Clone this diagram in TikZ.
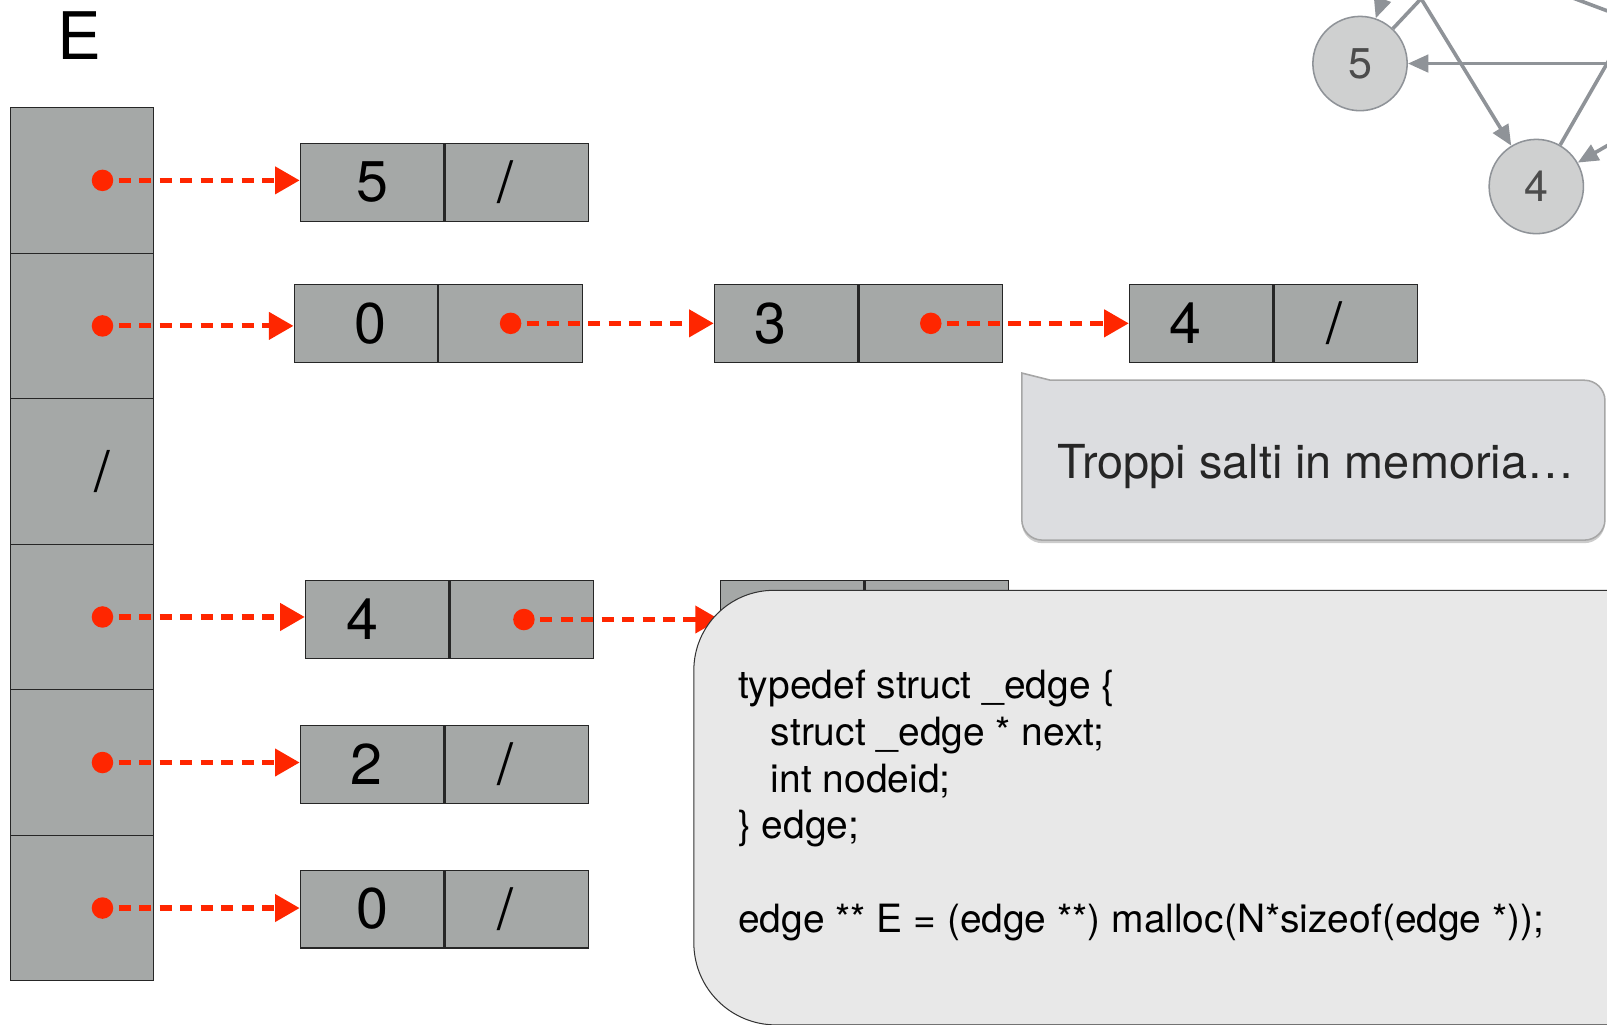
\documentclass[tikz,border=0pt]{standalone}
\usepackage{fontspec}
\setmainfont{TeX Gyre Heros}
\usepackage{tikz}
\usetikzlibrary{positioning}
\usetikzlibrary{arrows.meta}
\usetikzlibrary{shadows}

\definecolor{cellgray}{RGB}{165,168,167}
\definecolor{ptrred}{RGB}{255,38,0}
\definecolor{graphgray}{RGB}{143,147,152}
\definecolor{vertexfill}{RGB}{207,208,208}
\definecolor{notefill}{RGB}{220,221,224}
\definecolor{codefill}{RGB}{232,232,232}

\tikzset{
  ecell/.style={draw=black!85, fill=cellgray, line width=1pt, minimum width=140pt, minimum height=142pt, inner sep=0pt, font=\fontsize{55}{60}\selectfont},
  lcell/.style={draw=black!85, fill=cellgray, line width=1.2pt, minimum width=140pt, minimum height=76pt, inner sep=0pt, font=\fontsize{56}{60}\selectfont},
  ptrdot/.style={circle, fill=ptrred, inner sep=0pt, minimum size=21pt},
  ptr/.style={draw=ptrred, line width=5pt, dash pattern=on 12pt off 8pt, shorten <=5pt, -{Triangle[length=24pt,width=26pt]}},
  vertex/.style={circle, draw=graphgray, fill=vertexfill, line width=1.5pt, minimum size=92pt, inner sep=0pt, text=black!70, font=\fontsize{42}{46}\selectfont},
  gedge/.style={draw=graphgray, line width=3.5pt},
  garrow/.style={gedge, -{Triangle[length=20pt,width=17pt]}},
  codeline/.style={anchor=base west, inner sep=0pt, font=\fontsize{38}{45}\selectfont}
}
\newcommand{\nil}{/\hspace*{22pt}}

\begin{document}
\begin{tikzpicture}[x=1pt, y=-1pt]
\useasboundingbox (0,0) rectangle (1568,1000);
\fill[white] (0,0) rectangle (1568,1000);

\node[font=\fontsize{64}{70}\selectfont] (lblE) at (77,35) {E};
\foreach \i in {1,...,6} {
\node[ecell] (e\i) at (80,{176+142*(\i-1)}) {\ifnum\i=3 \hspace*{40pt}/\fi};
}

% lists
\node[lcell] (k1) at (363,178) {5};
\node[lcell, right=0pt of k1] (k1n) {\nil};
\node[lcell] (a0) at (357,315.5) {\hspace*{8pt}0};
\node[lcell, right=0pt of a0] (a0n) {};
\node[lcell] (b3) at (767,315.5) {3\hspace*{30pt}};
\node[lcell, right=0pt of b3] (b3n) {};
\node[lcell] (c4) at (1172,315.5) {4\hspace*{30pt}};
\node[lcell, right=0pt of c4] (c4n) {\nil};
\node[lcell] (d4) at (368,604.5) {4\hspace*{28pt}};
\node[lcell, right=0pt of d4] (d4n) {};
\node[lcell] (f4) at (773,604.5) {};
\node[lcell, right=0pt of f4] (f4n) {};
\node[lcell] (g2) at (363,746) {2\hspace*{10pt}};
\node[lcell, right=0pt of g2] (g2n) {\nil};
\node[lcell] (h0) at (363,887) {0};
\node[lcell, right=0pt of h0] (h0n) {\nil};

\foreach \i in {1,2,4,5,6} {
\node[ptrdot] (p\i) at ([xshift=20pt]e\i.center) {};
}
\node[ptrdot] (q2) at (a0n) {};
\node[ptrdot] (q3) at (b3n) {};
\node[ptrdot] (q4) at ([xshift=2pt]d4n.center) {};

\foreach \s/\t in {p1/k1,p2/a0,q2/b3,q3/c4,p4/d4,q4/f4,p5/g2,p6/h0} {
\draw[ptr] (\s) -- (\s -| \t.west);
}

% note
\draw[draw=black!35, fill=notefill, line width=1.5pt, drop shadow={shadow xshift=0pt, shadow yshift=-3pt, opacity=0.4}]
  (997,364) -- (1025,371) -- (1546,371) arc[start angle=90,end angle=0,radius=20pt]
  -- (1566,507) arc[start angle=0,end angle=-90,radius=20pt]
  -- (1017,527) arc[start angle=-90,end angle=-180,radius=20pt] -- cycle;
\node[anchor=base west, inner sep=0pt, text=black!85, font=\fontsize{45.7}{50}\selectfont] (note) at (1032,467) {Troppi salti in memoria…};

% code
\begin{scope}
\clip (0,0) rectangle (1568,1000);
\fill[codefill] (1600,576) -- (755,576) arc[start angle=90,end angle=180,radius=78pt]
  -- (677,920) arc[start angle=180,end angle=270,radius=80pt] -- (1600,1000) -- cycle;
\draw[black!80, line width=1pt] (1600,576) -- (755,576) arc[start angle=90,end angle=180,radius=78pt]
  -- (677,920) arc[start angle=180,end angle=270,radius=80pt] -- (1600,1000);
\end{scope}
\node[codeline] (c1) at (720,682) {typedef struct \_edge \{};
\node[codeline] (c2) at (752,727.5) {struct \_edge * next;};
\node[codeline] (c3) at (752,773) {int nodeid;};
\node[codeline] (c4) at (720,818.5) {\} edge;};
\node[codeline] (c5) at (720,909.5) {edge ** E = (edge **) malloc(N*sizeof(edge *));};

% graph
\begin{scope}
\clip (0,0) rectangle (1568,1000);
\node[vertex] (v5) at (1327,62) {5};
\node[vertex] (v4) at (1499,182) {4};
\coordinate (u1) at (1391,-122);
\coordinate (u2) at (1440,-58);
\coordinate (u3) at (1320,-110);
\coordinate (u4) at (1637,-58);
\coordinate (u5) at (1700,62);
\coordinate (u6) at (1650,95);
\coordinate (u7) at (1500,-15);
\coordinate (u8) at (1620,30);
\draw[garrow] (u1) -- (v5);
\draw[gedge] (v5) -- (u2);
\draw[garrow] (u3) -- (v4);
\draw[gedge] (v4) -- (u4);
\draw[garrow] (u5) -- (v5);
\draw[garrow] (u6) -- (v4);
\draw[gedge] (u7) -- (u8);
\end{scope}
\end{tikzpicture}
\end{document}
